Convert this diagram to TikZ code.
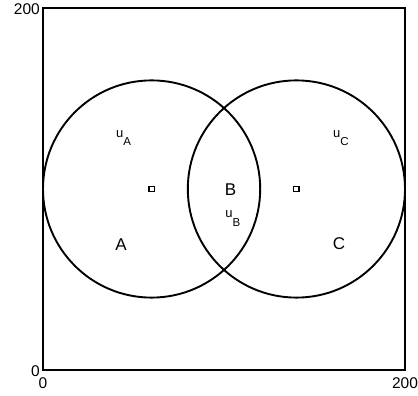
\documentclass[tikz,border=0pt]{standalone}
\usepackage{fontspec}
\setmainfont{Liberation Sans}
\usetikzlibrary{positioning}
\newcommand{\ulab}[1]{{\fontsize{13}{13}\selectfont u}\raisebox{-8.5pt}{\fontsize{11.5}{11.5}\selectfont #1}}

\begin{document}
\begin{tikzpicture}[
  x=1.81pt, y=1.81pt,
  frame/.style={draw, line width=1.7pt},
  ring/.style={draw, line width=1.9pt},
  centre/.style={draw, line width=1.4pt, minimum size=5.5pt, inner sep=0pt},
  region/.style={inner sep=0pt, font=\fontsize{17}{17}\selectfont},
  flow/.style={inner sep=0pt, anchor=base west},
  tick/.style={inner sep=0pt, font=\fontsize{15.5}{15.5}\selectfont},
]
\useasboundingbox (-23.76,-14.36) rectangle (207.18,204.42);
\draw[frame] (0,0) rectangle (200,200);
\draw[ring] (60,100) circle (60);
\draw[ring] (140,100) circle (60);

\node[centre] (ca) at (60,100) {};
\node[centre] (cc) at (140,100) {};

\node[region] (la) at (43.1,69.1) {A};
\node[region] (lb) at (103.6,99.7) {B};
\node[region] (lc) at (163.5,69.6) {C};

\node[flow] (ua) at (40.3,128.7) {\ulab{A}};
\node[flow] (ub) at (100.6,84) {\ulab{B}};
\node[flow] (uc) at (160.2,128.7) {\ulab{C}};

\node[tick, anchor=east, xshift=-3pt, yshift=-1pt] (ymax) at (0,200) {200};
\node[tick, anchor=east, xshift=-3pt, yshift=-1pt] (ymin) at (0,0) {0};
\node[tick, anchor=north, yshift=-7.5pt] (xmin) at (0,0) {0};
\node[tick, anchor=north, yshift=-7.5pt] (xmax) at (200,0) {200};
\end{tikzpicture}
\end{document}
